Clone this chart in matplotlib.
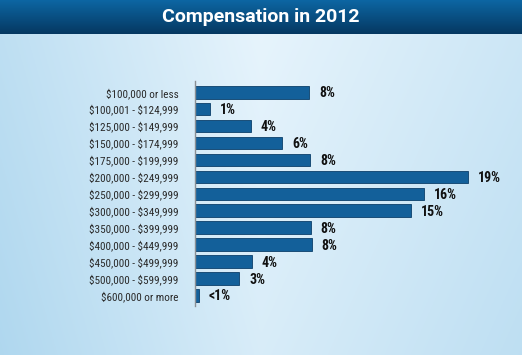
import numpy as np
import matplotlib
matplotlib.use("Agg")
import matplotlib.pyplot as plt
from matplotlib import font_manager

plt.rcParams["text.parse_math"] = False

categories = ["$100,000 or less", "$100,001 - $124,999", "$125,000 - $149,999",
              "$150,000 - $174,999", "$175,000 - $199,999", "$200,000 - $249,999",
              "$250,000 - $299,999", "$300,000 - $349,999", "$350,000 - $399,999",
              "$400,000 - $449,999", "$450,000 - $499,999", "$500,000 - $599,999",
              "$600,000 or more"]
values = [7.94, 1.06, 3.89, 6.06, 8.0, 19.0, 15.9, 15.0, 8.06, 8.13, 3.96, 3.08, 0.3]
value_labels = ["8%", "1%", "4%", "6%", "8%", "19%", "16%", "15%", "8%", "8%", "4%", "3%", "<1%"]
title = "Compensation in 2012"

names = {f.name for f in font_manager.fontManager.ttflist}
narrow = "Roboto"
for cand in ["Roboto Condensed", "Liberation Sans Narrow", "Open Sans Condensed"]:
    if cand in names:
        narrow = cand
        break

W, H = 522, 355
fig = plt.figure(figsize=(W / 100, H / 100), dpi=100)

# background gradient
bg = fig.add_axes([0, 0, 1, 1])
xx = np.linspace(0, 1, 300)
yy = np.linspace(0, 1, 200)
X, Y = np.meshgrid(xx, yy)
horiz = np.where(X < 0.5, 1 - (0.5 - X) * 1.7, 1 - (X - 0.5) * 1.1)
t = np.clip(horiz, 0, 1) * 0.75 + (1 - Y) * 0.25
c0 = np.array([0.66, 0.83, 0.93])
c1 = np.array([0.91, 0.96, 0.99])
img = c0[None, None, :] * (1 - t[..., None]) + c1[None, None, :] * t[..., None]
bg.imshow(img, extent=[0, 1, 0, 1], aspect="auto", origin="upper")
bg.set_xlim(0, 1)
bg.set_ylim(0, 1)
bg.axis("off")

# title banner
ban_h = 34 / H
ban = fig.add_axes([0, 1 - ban_h, 1, ban_h])
g = np.linspace(0, 1, 50)[:, None]
top = np.array([0.05, 0.40, 0.64])
bot = np.array([0.02, 0.22, 0.38])
bimg = top[None, None, :] * (1 - g[..., None]) + bot[None, None, :] * g[..., None]
bimg = np.repeat(bimg, 10, axis=1)
ban.imshow(bimg, extent=[0, 1, 0, 1], aspect="auto", origin="upper")
ban.set_xlim(0, 1)
ban.set_ylim(0, 1)
ban.axis("off")
ban.text(0.5, 0.5, title, color="white", fontsize=14, fontweight="bold",
         family="Roboto", ha="center", va="center")

# main axes
x0 = 194.7
px_per_unit = 14.4
xmax = 22
ytop, ybot = 80.7, 306
ax = fig.add_axes([x0 / W, 1 - ybot / H, px_per_unit * xmax / W, (ybot - ytop) / H])
ax.patch.set_alpha(0)
pos = np.arange(len(categories))
ax.barh(pos, values, height=0.74, color="#13609a", edgecolor="#0b3f6a", linewidth=0.6)
ax.set_xlim(0, xmax)
ax.set_ylim(12.63, -0.686)
ax.set_yticks(pos)
ax.set_yticklabels(categories, family=narrow, fontsize=8, color="#2a2a2a")
ax.tick_params(axis="y", length=0, pad=11.5)
ax.set_xticks([])
for s in ["top", "right", "bottom"]:
    ax.spines[s].set_visible(False)
ax.spines["left"].set_color("#8a8f94")
ax.spines["left"].set_linewidth(1)
for p, v, lab in zip(pos, values, value_labels):
    ax.annotate(lab, (v, p), xytext=(7.2, -0.8), textcoords="offset points",
                ha="left", va="center", fontsize=10, fontweight="bold",
                family=narrow, color="#111111")

fig.savefig("out.png", dpi=100)
